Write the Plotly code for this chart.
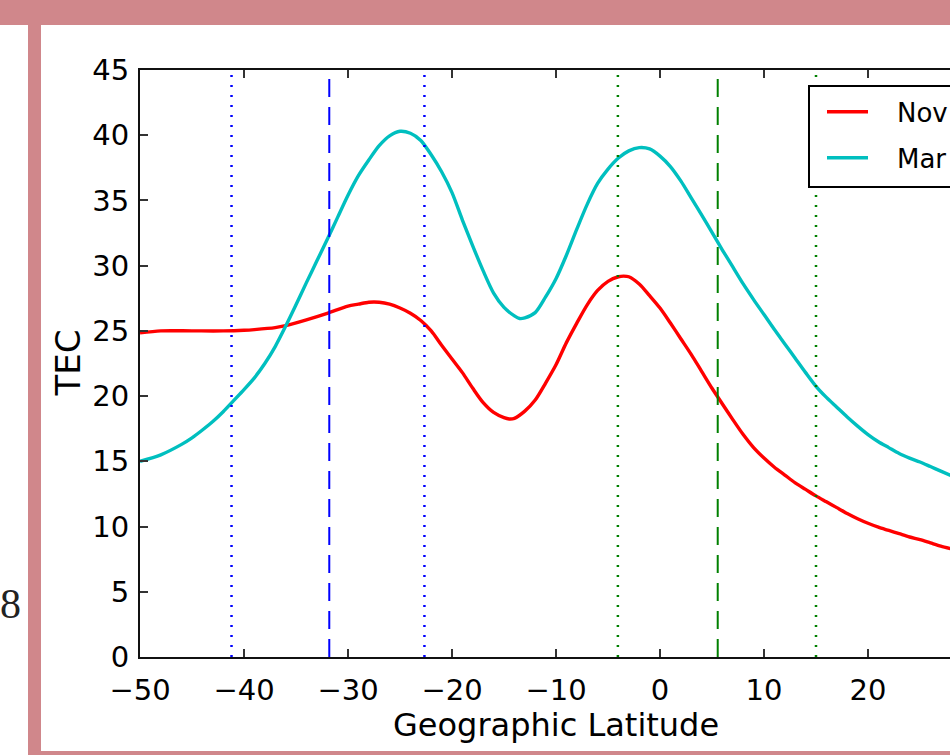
import plotly.graph_objects as go

# TEC profiles versus geographic latitude
lat_nov = [-50, -48, -45, -42, -40, -39, -37, -36, -34, -32, -30, -29, -28, -27, -26, -25,
           -24, -23, -22, -21, -20, -19, -18, -17, -16, -15, -14.5, -14, -13, -12, -11, -10,
           -9, -8, -7, -6, -5, -4, -3.5, -3, -2, -1, 0, 1, 2, 3, 4, 5, 6, 7, 8, 9, 10,
           11, 12, 13, 14, 15, 16, 17, 18, 19, 20, 21, 22, 23, 24, 25, 26, 27, 28]
tec_nov = [24.85, 25.0, 25.0, 25.0, 25.05, 25.1, 25.25, 25.4, 25.85, 26.35, 26.9, 27.05, 27.2,
           27.2, 27.05, 26.75, 26.35, 25.8, 25.0, 23.9, 22.85, 21.8, 20.6, 19.5, 18.75, 18.35,
           18.25, 18.3, 18.85, 19.7, 21.0, 22.4, 24.1, 25.6, 27.0, 28.1, 28.8, 29.15, 29.2,
           29.15, 28.6, 27.7, 26.75, 25.6, 24.4, 23.2, 21.9, 20.6, 19.4, 18.2, 17.05, 16.05,
           15.25, 14.55, 13.95, 13.35, 12.85, 12.35, 11.9, 11.45, 11.0, 10.6, 10.25, 9.95,
           9.7, 9.45, 9.2, 9.0, 8.75, 8.5, 8.3]

lat_mar = [-50, -48, -46, -45, -44, -43, -42, -41, -40, -39, -38, -37, -36, -35, -34, -33,
           -32, -31, -30, -29, -28, -27, -26, -25, -24, -23, -22, -21, -20, -19, -18, -17,
           -16, -15, -14, -13.5, -13, -12, -11, -10, -9, -8, -7, -6, -5, -4, -3, -2, -1, 0,
           1, 2, 3, 4, 5, 6, 7, 8, 9, 10, 11, 12, 13, 14, 15, 16, 17, 18, 19, 20, 21, 22,
           23, 24, 25, 26, 27, 28]
tec_mar = [15.0, 15.5, 16.3, 16.8, 17.4, 18.05, 18.8, 19.65, 20.5, 21.4, 22.5, 23.8, 25.35,
           27.0, 28.7, 30.35, 32.0, 33.7, 35.4, 36.9, 38.1, 39.2, 39.95, 40.3, 40.15, 39.6,
           38.5, 37.2, 35.6, 33.5, 31.5, 29.6, 27.9, 26.8, 26.15, 25.95, 26.0, 26.4, 27.6,
           29.0, 30.8, 32.8, 34.7, 36.3, 37.4, 38.25, 38.8, 39.05, 38.95, 38.4, 37.6, 36.5,
           35.2, 33.9, 32.55, 31.2, 29.9, 28.6, 27.4, 26.25, 25.1, 24.0, 22.9, 21.8,
           20.75, 19.9, 19.15, 18.4, 17.7, 17.05, 16.5, 16.05, 15.6, 15.25, 14.95, 14.6,
           14.25, 13.9]

series_names = ["Nov", "Mar"]
series_colors = ["#FF0000", "#00BFBF"]

# Anomaly crest / trough markers (southern in blue, northern in green)
south_lines = [-41.2, -31.8, -22.65]
north_lines = [-4.05, 5.55, 15.0]
line_styles = [("2px,8px", 2.5), ("18px,10px", 2), ("2px,8px", 2.5)]

x_ticks = [-50, -40, -30, -20, -10, 0, 10, 20, 30]
y_ticks = [0, 5, 10, 15, 20, 25, 30, 35, 40, 45]

FONT = "DejaVu Sans"
W, H = 950, 755
L, R, T, B = 140, 0, 70, 98
PW, PH = W - L - R, H - T - B
PX_PER_DEG = 10.4
x_max = -50 + PW / PX_PER_DEG


def px_x(p):
    return (p - L) / PW


def px_y(p):
    return (H - B - p) / PH


fig = go.Figure()
for lat, tec, name, col in zip([lat_nov, lat_mar], [tec_nov, tec_mar], series_names, series_colors):
    fig.add_trace(go.Scatter(x=lat, y=tec, mode="lines", name=name,
                             line=dict(color=col, width=3.4, shape="spline", smoothing=0.8),
                             showlegend=False))

shapes = []
for xs, col in [(south_lines, "#0000FF"), (north_lines, "#008000")]:
    for xv, (dash, lw) in zip(xs, line_styles):
        shapes.append(dict(type="line", xref="x", yref="paper", x0=xv, x1=xv, y0=0, y1=1,
                           line=dict(color=col, width=lw, dash=dash), layer="above"))

# Legend box with sample lines
shapes.append(dict(type="rect", xref="paper", yref="paper",
                   x0=px_x(809), x1=px_x(990), y0=px_y(187), y1=px_y(86),
                   fillcolor="white", line=dict(color="black", width=2), layer="above"))
annotations = []
for name, col, yy in zip(series_names, series_colors, [111.7, 157.7]):
    shapes.append(dict(type="line", xref="paper", yref="paper",
                       x0=px_x(827), x1=px_x(868), y0=px_y(yy), y1=px_y(yy),
                       line=dict(color=col, width=3.4), layer="above"))
    annotations.append(dict(xref="paper", yref="paper", x=px_x(895), y=px_y(yy + 1),
                            text=name, showarrow=False, xanchor="left", yanchor="middle",
                            font=dict(family=FONT, size=26, color="black")))

# Page frame around the figure
pink = "#D0878B"
shapes += [
    dict(type="rect", xref="paper", yref="paper", x0=px_x(0), x1=px_x(W), y0=px_y(25), y1=px_y(0),
         fillcolor=pink, line=dict(width=0), layer="above"),
    dict(type="rect", xref="paper", yref="paper", x0=px_x(28), x1=px_x(41), y0=px_y(H), y1=px_y(25),
         fillcolor=pink, line=dict(width=0), layer="above"),
    dict(type="rect", xref="paper", yref="paper", x0=px_x(41), x1=px_x(W), y0=px_y(H), y1=px_y(751),
         fillcolor=pink, line=dict(width=0), layer="above"),
]

# Axis titles
annotations.append(dict(xref="x", yref="paper", x=-10, y=px_y(725), text="Geographic Latitude",
                        showarrow=False, xanchor="center", yanchor="middle",
                        font=dict(family=FONT, size=32, color="black")))
annotations.append(dict(xref="paper", yref="paper", x=px_x(67), y=0.5, text="TEC", textangle=-90,
                        showarrow=False, xanchor="center", yanchor="middle",
                        font=dict(family=FONT, size=34, color="black")))
annotations.append(dict(xref="paper", yref="paper", x=px_x(10), y=px_y(604), text="8",
                        showarrow=False, xanchor="center", yanchor="middle",
                        font=dict(family="Liberation Serif", size=42, color="#222")))

axis_common = dict(showgrid=False, zeroline=False, showline=True, linecolor="#111", linewidth=2,
                   ticks="inside", ticklen=8, tickwidth=1.5, tickcolor="#333",
                   tickfont=dict(family=FONT, size=29, color="black"))

fig.update_layout(
    width=W, height=H,
    margin=dict(l=L, r=R, t=T, b=B),
    paper_bgcolor="white", plot_bgcolor="white",
    xaxis=dict(range=[-50, x_max], tickvals=x_ticks, mirror="ticks", ticklabelstandoff=6, **axis_common),
    yaxis=dict(range=[0, 45], tickvals=y_ticks, mirror=False, ticklabelstandoff=3, **axis_common),
    shapes=shapes, annotations=annotations,
)

fig.write_html("out.html")
